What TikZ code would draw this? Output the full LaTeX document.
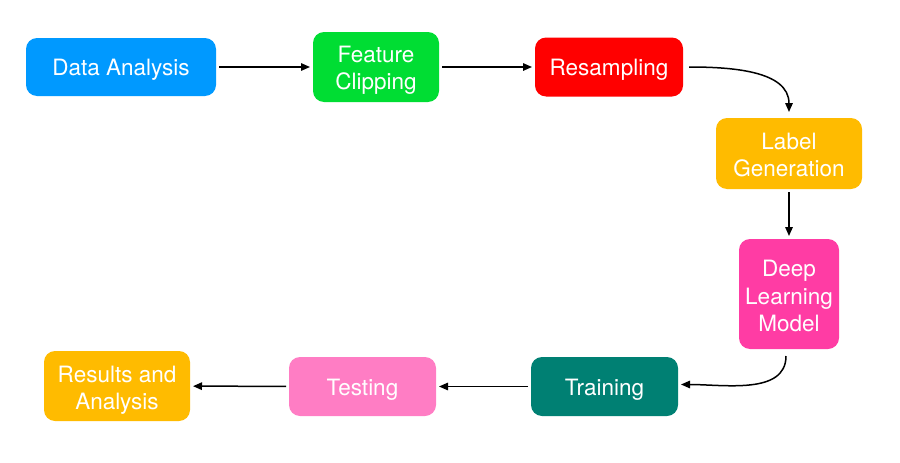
\documentclass[tikz,border=0pt]{standalone}
\usepackage{fontspec}
\setmainfont{TeX Gyre Heros}
\usetikzlibrary{arrows.meta}
\definecolor{cblue}{RGB}{0,153,255}
\definecolor{cgreen}{RGB}{0,221,51}
\definecolor{cred}{RGB}{255,0,0}
\definecolor{cyellow}{RGB}{255,187,0}
\definecolor{cpink}{RGB}{255,60,164}
\definecolor{cteal}{RGB}{0,128,115}
\definecolor{clpink}{RGB}{255,125,196}
\tikzset{
  box/.style={rounded corners=11pt, inner sep=0pt, outer sep=3pt},
  boxtext/.style={text=white, align=center, inner sep=0pt, yshift=-3pt,
    font=\fontsize{22.5}{27.5}\selectfont},
  conn/.style={line width=1.5pt, -{Triangle[length=9pt,width=7.5pt]}},
}
\begin{document}
\begin{tikzpicture}[x=1pt,y=-1pt]
\useasboundingbox (0,0) rectangle (900,463);
\node[box, fill=cblue, minimum width=190pt, minimum height=58pt] (da) at (121,67) {};
\node[boxtext] (daT) at (da) {Data Analysis};
\node[box, fill=cgreen, minimum width=126pt, minimum height=70pt] (fc) at (376,67) {};
\node[boxtext] (fcT) at (fc) {Feature\\Clipping};
\node[box, fill=cred, minimum width=148pt, minimum height=59pt] (rs) at (609,67) {};
\node[boxtext] (rsT) at (rs) {Resampling};
\node[box, fill=cyellow, minimum width=146pt, minimum height=71pt] (lg) at (789,153.5) {};
\node[boxtext, yshift=1.5pt] (lgT) at (lg) {Label\\Generation};
\node[box, fill=cpink, minimum width=100pt, minimum height=110pt] (dl) at (789,294) {};
\node[boxtext, yshift=1pt] (dlT) at (dl) {Deep\\Learning\\Model};
\node[box, fill=cteal, minimum width=147pt, minimum height=59pt] (tr) at (604.5,386.5) {};
\node[boxtext] (trT) at (tr) {Training};
\node[box, fill=clpink, minimum width=147pt, minimum height=59pt] (te) at (362.5,386.5) {};
\node[boxtext] (teT) at (te) {Testing};
\node[box, fill=cyellow, minimum width=146pt, minimum height=70pt] (ra) at (117,386) {};
\node[boxtext, yshift=-1pt] (raT) at (ra) {Results and\\Analysis};
\draw[conn] (da) -- (fc);
\draw[conn] (fc) -- (rs);
\draw[conn, shorten <=3pt, shorten >=3pt] (rs.east) to[out=0, in=90] (lg.north);
\draw[conn] (lg) -- (dl);
\draw[conn, shorten <=4pt] ([xshift=-3pt]dl.south) to[out=-90, in=0] ([yshift=2pt]tr.east);
\draw[conn] (tr) -- (te);
\draw[conn] (te) -- (ra);
\end{tikzpicture}
\end{document}
